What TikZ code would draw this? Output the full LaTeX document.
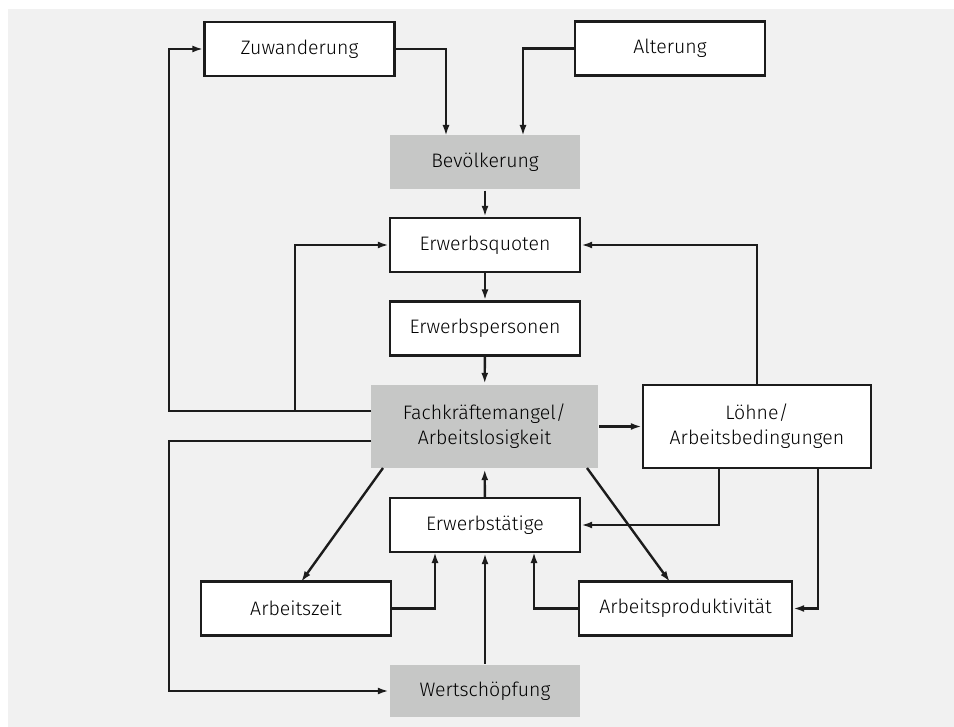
\documentclass[tikz,border=0pt]{standalone}
\usepackage{fontspec}
\setmainfont{Fira Sans Light}
\usepackage{tikz}
\usetikzlibrary{arrows.meta,positioning,calc}

\definecolor{bggray}{HTML}{F1F1F1}
\definecolor{boxgray}{HTML}{C6C7C6}
\definecolor{inkgray}{HTML}{1C1C1C}

\tikzset{
    box/.style={draw=inkgray,line width=2.4pt,fill=white,minimum width=190pt,minimum height=54pt,
        inner sep=0pt,text=black,font=\fontsize{19.5}{25}\selectfont},
    grbox/.style={box,draw=none,fill=boxgray},
    arc/.style={-{Latex[length=11pt,width=7pt]},line width=2.4pt,draw=inkgray},
    line/.style={line width=2.4pt,draw=inkgray}
}

\begin{document}
\begin{tikzpicture}[x=1pt,y=-1pt]
        % Frame
        \useasboundingbox (0,0) rectangle (954,727);
        \fill[bggray] (8,9) rectangle (954,727);

        % Boxes
        \node[box] (zuw) at (299.5,49) {Zuwanderung};
        \node[box] (alt) at (670,48.5) {Alterung};
        \node[grbox] (bev) at (485,162.5) {Bevölkerung};
        \node[box] (quo) at (485,245) {Erwerbsquoten};
        \node[box] (pers) at (485,328.5) {Erwerbspersonen};
        \node[grbox,minimum width=227pt,minimum height=83pt,align=center] (fach) at (484.5,426.5)
            {Fachkräftemangel/\\Arbeitslosigkeit};
        \node[box,minimum width=228pt,minimum height=83pt,align=center] (loehne) at (757,426.5)
            {Löhne/\\Arbeitsbedingungen};
        \node[box] (taet) at (485,525) {Erwerbstätige};
        \node[box] (zeit) at (296,608.5) {Arbeitszeit};
        \node[box,minimum width=213pt] (prod) at (685.5,608.5) {Arbeitsproduktivität};
        \node[grbox,minimum height=52pt] (wert) at (485,691) {Wertschöpfung};

        % Helper points
        \coordinate (bevin1) at (446,136);
        \coordinate (bevin2) at (523,136);
        \coordinate (fachl1) at (371,411);
        \coordinate (fachl2) at (371,441);
        \coordinate (kink1) at (169,411);
        \coordinate (kink2) at (295,411);
        \coordinate (kink3) at (169,441);
        \coordinate (loeb1) at (719,468);
        \coordinate (loeb2) at (818,468);
        \coordinate (taetin1) at (435,552);
        \coordinate (taetin2) at (534,552);
        \coordinate (diag1) at (383,468);
        \coordinate (diag2) at (301,582);
        \coordinate (diag3) at (587,468);
        \coordinate (diag4) at (670,582);

        % Arcs
        \draw[arc] (zuw.east) -| (bevin1);
        \draw[arc] (alt.west) -| (bevin2);
        \draw[arc] (bev) -- (quo);
        \draw[arc] (quo) -- (pers);
        \draw[arc] (pers) -- (fach);
        \draw[arc] (fachl1) -- (kink1) |- (zuw.west);
        \draw[arc] (kink2) |- (quo.west);
        \draw[arc] (fach.east) -- (loehne.west);
        \draw[arc] (loehne.north) |- (quo.east);
        \draw[arc] (fachl2) -- (kink3) |- (wert.west);
        \draw[arc] (taet) -- (fach);
        \draw[arc] (loeb1) |- (taet.east);
        \draw[arc] (loeb2) |- (prod.east);
        \draw[arc] (zeit.east) -| (taetin1);
        \draw[arc] (wert) -- (taet);
        \draw[arc] (prod.west) -| (taetin2);
        \draw[arc] (diag1) -- (diag2);
        \draw[arc] (diag3) -- (diag4);
    \end{tikzpicture}
\end{document}
